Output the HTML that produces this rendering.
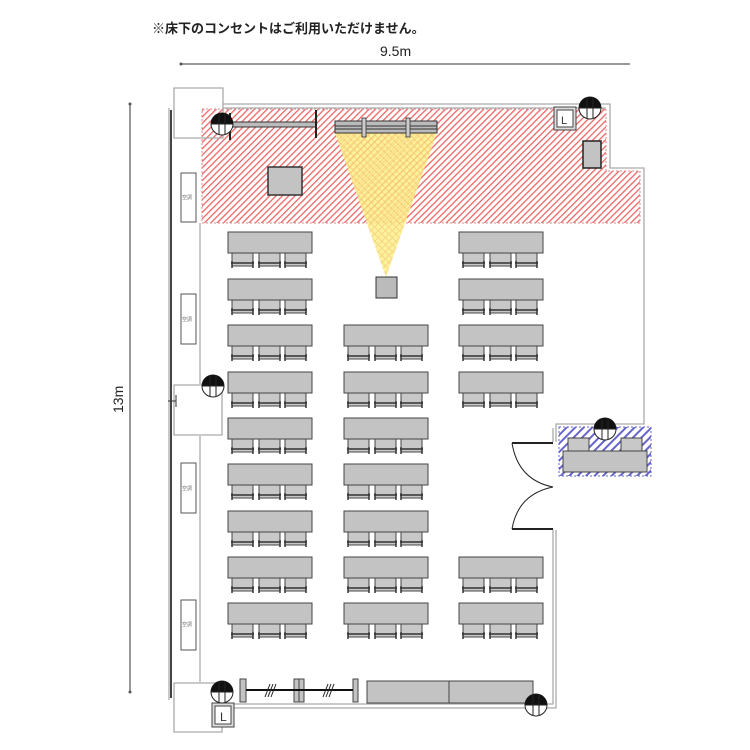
<!DOCTYPE html>
<html><head><meta charset="utf-8"><style>
html,body{margin:0;padding:0;background:#fff;width:750px;height:750px;overflow:hidden}
svg{display:block}
text{font-family:"Liberation Sans","Noto Sans CJK JP",sans-serif}
</style></head><body>
<svg width="750" height="750" viewBox="0 0 750 750" xmlns="http://www.w3.org/2000/svg">
<defs>
<pattern id="red" patternUnits="userSpaceOnUse" width="4.5" height="4.5" patternTransform="rotate(45)">
<rect width="4.5" height="4.5" fill="#fff"/><rect width="1.3" height="4.5" fill="#e66"/></pattern>
<pattern id="blue" patternUnits="userSpaceOnUse" width="6" height="6" patternTransform="rotate(45)">
<rect width="6" height="6" fill="#fff"/><rect width="2" height="6" fill="#66c"/></pattern>
<pattern id="yel" patternUnits="userSpaceOnUse" width="5" height="5" patternTransform="rotate(45)">
<rect width="5" height="5" fill="#fdf08a"/><rect width="1" height="5" fill="#f5cf70"/><rect width="5" height="1" fill="#f5cf70"/></pattern>
<g id="chair">
<rect x="0" y="0" width="21" height="13" fill="#c8c8c8" stroke="#444" stroke-width="1"/>
<line x1="-1" y1="10" x2="22" y2="10" stroke="#333" stroke-width="1.5"/>
<line x1="0" y1="8" x2="0" y2="15" stroke="#333" stroke-width="1.5"/>
<line x1="21" y1="8" x2="21" y2="15" stroke="#333" stroke-width="1.5"/>
</g>
<g id="tbl">
<rect x="0" y="0" width="84" height="21" fill="#c3c3c3" stroke="#444" stroke-width="1"/>
<use href="#chair" x="4" y="21"/><use href="#chair" x="31" y="21"/><use href="#chair" x="57" y="21"/>
</g>
<g id="outlet">
<circle cx="0" cy="0" r="11" fill="#fff" stroke="#222" stroke-width="1"/>
<path d="M-11 0 A11 11 0 0 1 11 0 Z" fill="#111"/>
<line x1="-3" y1="-11" x2="-3" y2="10" stroke="#222"/><line x1="3" y1="-11" x2="3" y2="10" stroke="#222"/>
<line x1="-11" y1="0" x2="11" y2="0" stroke="#222"/>
</g>
</defs>

<text x="152" y="33" font-size="13" font-weight="bold" fill="#222">※床下のコンセントはご利用いただけません。</text>
<text x="380" y="56" font-size="14" fill="#222">9.5m</text>
<line x1="181" y1="64" x2="630" y2="64" stroke="#333" stroke-width="1"/>
<circle cx="181" cy="64" r="1.5" fill="#555"/>
<line x1="130" y1="104" x2="130" y2="692" stroke="#333" stroke-width="1"/>
<circle cx="130" cy="104" r="1.5" fill="#555"/><circle cx="130" cy="692" r="1.5" fill="#555"/>
<text x="0" y="0" font-size="14" fill="#222" transform="translate(123,413) rotate(-90)">13m</text>

<path d="M202 109 H606 V171 H640 V223 H202 Z" fill="url(#red)" stroke="#d88" stroke-dasharray="2,2"/>
<g fill="none" stroke="#aaa" stroke-width="1.3">
<path d="M223 104 H610 V168 H644 V424 H556 V442"/>
<path d="M223 108 H606"/>
<path d="M556 530 V708 H222"/>
<path d="M553 530 V704 H222"/>
<path d="M200 223 V384 M200 436 V682"/>
<path d="M174 88 H223 V138 H174 Z M174 385 H222 V435 H174 Z M174 683 H222 V732 H174 Z"/>
<path d="M169 108 V700"/>
<path d="M553 442 V428"/>
</g>
<line x1="171" y1="110" x2="171" y2="698" stroke="#444" stroke-width="2"/>
<line x1="168" y1="401" x2="176" y2="401" stroke="#333"/>
<line x1="176" y1="395" x2="176" y2="407" stroke="#333"/>
<g fill="#fff" stroke="#555" stroke-width="1">
<rect x="181" y="173" width="15" height="49"/><rect x="181" y="294" width="15" height="50"/>
<rect x="181" y="463" width="15" height="50"/><rect x="181" y="600" width="15" height="50"/>
</g>
<g font-size="5" fill="#777">
<text x="182" y="199">空調</text><text x="182" y="321">空調</text><text x="182" y="490">空調</text><text x="182" y="626">空調</text>
</g>

<rect x="230" y="122" width="86" height="5" fill="#bbb" stroke="#333"/>
<line x1="230" y1="113" x2="230" y2="140" stroke="#222" stroke-width="2"/>
<line x1="316" y1="110" x2="316" y2="138" stroke="#222" stroke-width="2"/>
<polygon points="335,133 437,133 386,277" fill="url(#yel)" opacity="0.85"/>
<rect x="335" y="121" width="102" height="12" fill="#bbb" stroke="#333"/>
<line x1="335" y1="126" x2="437" y2="126" stroke="#333"/><line x1="335" y1="129" x2="437" y2="129" stroke="#333"/>
<rect x="362" y="118" width="4" height="19" fill="#ccc" stroke="#333" stroke-width=".8"/>
<rect x="406" y="118" width="4" height="19" fill="#ccc" stroke="#333" stroke-width=".8"/>
<rect x="376" y="277" width="21" height="21" fill="#bbb" stroke="#333"/>
<rect x="268" y="167" width="34" height="28" fill="#c3c3c3" stroke="#333" stroke-width="1.5"/>
<rect x="583" y="141" width="18" height="27" fill="#c3c3c3" stroke="#222" stroke-width="1.5"/>
<rect x="554" y="107" width="22" height="23" fill="#ddd" stroke="#444"/>
<rect x="557" y="110" width="16" height="17" fill="#fff" stroke="#444"/>
<text x="561" y="124" font-size="11" fill="#333">L</text>

<use href="#tbl" x="228" y="232"/><use href="#tbl" x="228" y="279"/><use href="#tbl" x="228" y="325"/>
<use href="#tbl" x="228" y="372"/><use href="#tbl" x="228" y="418"/><use href="#tbl" x="228" y="464"/>
<use href="#tbl" x="228" y="511"/><use href="#tbl" x="228" y="557"/><use href="#tbl" x="228" y="603"/>
<use href="#tbl" x="344" y="325"/><use href="#tbl" x="344" y="372"/><use href="#tbl" x="344" y="418"/>
<use href="#tbl" x="344" y="464"/><use href="#tbl" x="344" y="511"/><use href="#tbl" x="344" y="557"/>
<use href="#tbl" x="344" y="603"/>
<use href="#tbl" x="459" y="232"/><use href="#tbl" x="459" y="279"/><use href="#tbl" x="459" y="325"/>
<use href="#tbl" x="459" y="372"/><use href="#tbl" x="459" y="557"/><use href="#tbl" x="459" y="603"/>

<rect x="559" y="427" width="92" height="49" fill="url(#blue)" stroke="#66c" stroke-dasharray="2,2"/>
<rect x="568" y="438" width="21" height="13" fill="#c8c8c8" stroke="#444"/>
<rect x="621" y="438" width="21" height="13" fill="#c8c8c8" stroke="#444"/>
<rect x="563" y="451" width="84" height="21" fill="#c3c3c3" stroke="#444"/>

<g fill="none" stroke="#222">
<line x1="512" y1="443" x2="553" y2="443" stroke-width="2"/>
<line x1="512" y1="529" x2="553" y2="529" stroke-width="2"/>
<path d="M512 443 Q518 480 553 487 M553 487 Q518 494 512 529"/>
</g>

<rect x="240" y="679" width="6" height="23" fill="#c3c3c3" stroke="#444"/>
<rect x="294" y="679" width="10" height="23" fill="#c3c3c3" stroke="#444"/>
<line x1="299" y1="679" x2="299" y2="702" stroke="#444"/>
<rect x="353" y="679" width="5" height="23" fill="#c3c3c3" stroke="#444"/>
<line x1="246" y1="690" x2="353" y2="690" stroke="#111" stroke-width="2"/>
<g stroke="#222"><path d="M265 697 L270 684 M268 697 L273 684 M271 697 L276 684 M323 697 L328 684 M326 697 L331 684 M329 697 L334 684"/></g>
<rect x="367" y="681" width="82" height="22" fill="#c3c3c3" stroke="#444"/>
<rect x="449" y="681" width="84" height="22" fill="#c3c3c3" stroke="#444"/>
<rect x="212" y="703" width="22" height="24" fill="#ddd" stroke="#444"/>
<rect x="215" y="706" width="16" height="18" fill="#fff" stroke="#444"/>
<text x="220" y="721" font-size="12" fill="#333">L</text>

<use href="#outlet" x="222" y="124"/>
<use href="#outlet" x="213" y="386"/>
<use href="#outlet" x="590" y="108"/>
<use href="#outlet" x="605" y="429"/>
<use href="#outlet" x="222" y="692"/>
<use href="#outlet" x="536" y="705"/>
</svg>
</body></html>
